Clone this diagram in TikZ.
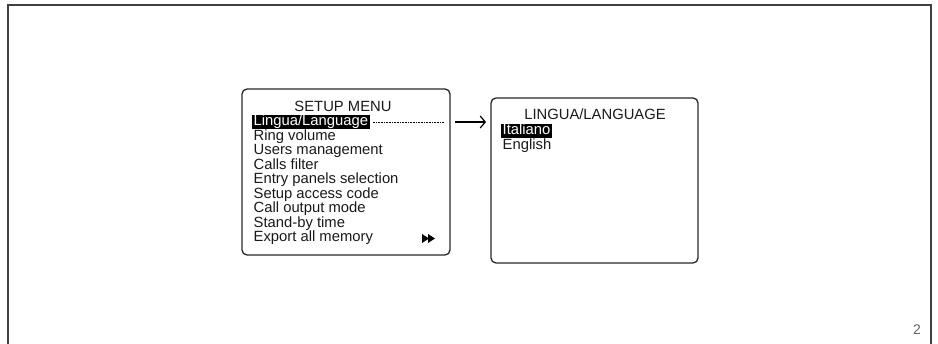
\documentclass[tikz,border=0pt]{standalone}
\usepackage{fontspec}
\setmainfont{Liberation Sans}
\usetikzlibrary{arrows.meta,positioning}

\begin{document}
\begin{tikzpicture}[x=1pt,y=-1pt]
\tikzstyle{ecran}=[draw=black!85, line width=1.3pt, rounded corners=5pt]
\tikzstyle{ligne}=[anchor=west, inner xsep=1.5pt, inner ysep=0.5pt, text height=10.5pt, text depth=3pt, text=black!90, font=\fontsize{14.8}{14.8}\selectfont]
\tikzstyle{choix}=[ligne, fill=black, text=white]
\tikzstyle{titre}=[ligne, anchor=center]
\useasboundingbox (0,0) rectangle (938,344);
% cadre
\draw[black!75, line width=2pt] (8,350) -- (8,5) -- (931,5) -- (931,350);
% menu
\draw[ecran] (242,89) rectangle (450,255);
\node[titre] (setup) at (343,108) {SETUP MENU};
\node[choix] (m1) at (252,122) {Lingua/Language};
\foreach \t [count=\i from 2] in {Ring volume, Users management, Calls filter,
  Entry panels selection, Setup access code, Call output mode, Stand-by time,
  Export all memory}
  \node[ligne] (m\i) at (252,{122+14.5*(\i-1)}) {\t};
\coordinate (ff) at (422,238.5);
\fill (ff) ++(0,-4.5) -- ++(0,9) -- ++(7,-4.5) -- cycle;
\fill (ff) ++(6,-4.5) -- ++(0,9) -- ++(7,-4.5) -- cycle;
% langue
\draw[ecran] (491,98) rectangle (698,263);
\node[titre] (lang) at (595,116) {LINGUA/LANGUAGE};
\node[choix] (l1) at (501,131) {Italiano};
\node[ligne] (l2) at (501,145.5) {English};
% liaison
\coordinate (pt) at (444,122);
\coordinate (fl) at (455,122);
\coordinate (fin) at (486,122);
\draw[densely dotted, line width=0.6pt, shorten <=3pt] (m1.east) -- (pt);
\draw[line width=1.2pt, -{Straight Barb[length=5pt,width=12pt]}] (fl) -- (fin);
\node[text=black!60, font=\fontsize{14}{14}\selectfont] (page) at (917,330) {2};
\end{tikzpicture}
\end{document}
